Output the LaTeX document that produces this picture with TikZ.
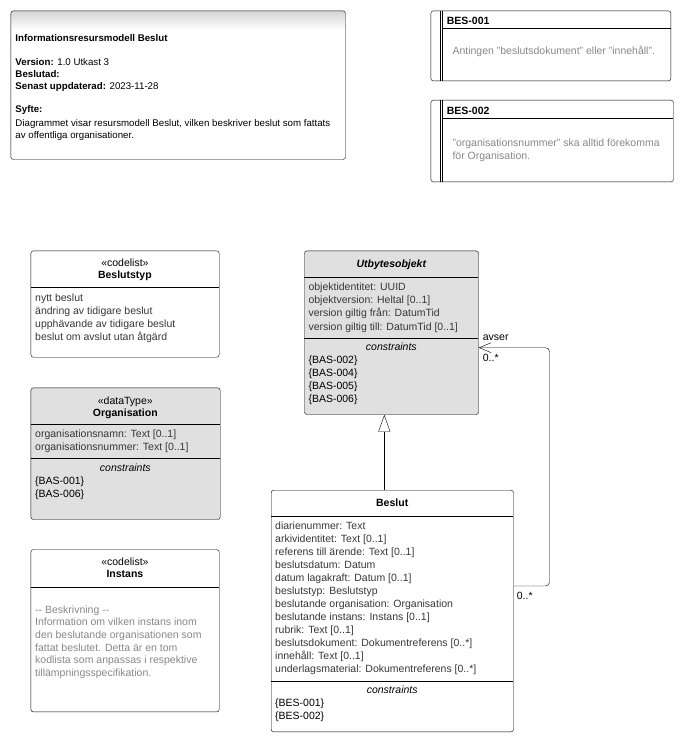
\documentclass[tikz,border=0pt]{standalone}
\usepackage{fontspec}
\setmainfont{Liberation Sans}
\usetikzlibrary{arrows.meta,positioning,calc}
\definecolor{boxgray}{RGB}{224,224,224}
\definecolor{hintgray}{RGB}{135,135,135}
\definecolor{attrtext}{RGB}{55,55,55}

\begin{document}
\begin{tikzpicture}[x=1pt,y=-1pt,font=\fontsize{10.5}{13}\selectfont,
 umlbox/.style={draw,rounded corners=2.5pt,anchor=north west,inner sep=0pt},
 graybox/.style={umlbox,fill=boxgray},
 plain/.style={anchor=base west,inner sep=0pt},
 attr/.style={plain,text=attrtext},
 hint/.style={plain,text=hintgray},
 cname/.style={anchor=base,inner sep=0pt,font=\fontsize{10.5}{13}\selectfont\bfseries},
 cnote/.style={anchor=base,inner sep=0pt,font=\fontsize{10.5}{13}\selectfont\itshape}]
\useasboundingbox (0,0) rectangle (684,743);

% information note
\shade[top color=black!16,bottom color=white] (11.5,11.5) rectangle (344.5,30);
\node[umlbox,minimum width=334.6,minimum height=148.6] (info) at (10.7,10.7) {};
\begin{scope}[font=\fontsize{9.7}{11}\selectfont]
\node[plain,font=\fontsize{9.7}{11}\selectfont\bfseries] at (15.3,41.7) {Informationsresursmodell Beslut};
\node[plain] at (15.3,65.3) {\textbf{Version:} 1.0 Utkast 3};
\node[plain] at (15.3,77.3) {\textbf{Beslutad:}};
\node[plain] at (15.3,89.3) {\textbf{Senast uppdaterad:} 2023-11-28};
\node[plain] at (15.3,112.7) {\textbf{Syfte:}};
\node[plain] at (15.3,126.7) {Diagrammet visar resursmodell Beslut, vilken beskriver beslut som fattats};
\node[plain] at (15.3,138.7) {av offentliga organisationer.};
\end{scope}

% constraint notes
\node[umlbox,minimum width=240,minimum height=70] (bes1) at (430.7,10.7) {};
\draw (440,10.7)--(440,80.7) (442,10.7)--(442,80.7) (442,28.3)--(670.7,28.3);
\node[plain,font=\fontsize{10.5}{13}\selectfont\bfseries] at (446.7,25) {BES-001};
\node[hint] at (452.3,55) {Antingen "beslutsdokument" eller "innehåll".};

\node[umlbox,minimum width=242.6,minimum height=81.7] (bes2) at (430.7,100) {};
\draw (440,100)--(440,181.7) (442,100)--(442,181.7) (442,118.3)--(673.3,118.3);
\node[plain,font=\fontsize{10.5}{13}\selectfont\bfseries] at (446.7,115) {BES-002};
\node[hint] at (452.3,146.7) {"organisationsnummer" ska alltid förekomma};
\node[hint] at (452.3,159.3) {för Organisation.};

% Beslutstyp
\node[umlbox,minimum width=188.3,minimum height=106.3] (beslutstyp) at (30.7,250.7) {};
\node[anchor=base,inner sep=0pt] at (124.9,266) {«codelist»};
\node[cname] at (124.9,278.5) {Beslutstyp};
\draw (30.7,287)--(219,287);
\foreach \t [count=\i from 0] in {{nytt beslut},{ändring av tidigare beslut},{upphävande av tidigare beslut},{beslut om avslut utan åtgärd}} {
 \node[attr] at (35,301+13*\i) {\t};
}

% Organisation
\node[graybox,minimum width=189.3,minimum height=131.6] (organisation) at (30.7,387.7) {};
\node[anchor=base,inner sep=0pt] at (125.3,404.5) {«dataType»};
\node[cname] at (125.3,416.5) {Organisation};
\draw (30.7,424.3)--(220,424.3) (30.7,458.3)--(220,458.3);
\node[attr] at (35,437.5) {organisationsnamn: Text [0..1]};
\node[attr] at (35,450.5) {organisationsnummer: Text [0..1]};
\node[cnote] at (125.3,471.7) {constraints};
\node[plain] at (35,484.5) {\{BAS-001\}};
\node[plain] at (35,497.5) {\{BAS-006\}};

% Instans
\node[umlbox,minimum width=188.3,minimum height=162.4] (instans) at (30.7,549.3) {};
\node[anchor=base,inner sep=0pt] at (124.9,565) {«codelist»};
\node[cname] at (124.9,577.3) {Instans};
\draw (30.7,586.7)--(219,586.7);
\foreach \t [count=\i from 0] in {{-{}- Beskrivning -{}-},{Information om vilken instans inom},{den beslutande organisationen som},{fattat beslutet. Detta är en tom},{kodlista som anpassas i respektive},{tillämpningsspecifikation.}} {
 \node[hint] at (35,613+12.7*\i) {\t};
}

% Utbytesobjekt
\node[graybox,minimum width=174,minimum height=163.6] (utbyte) at (304.3,250.7) {};
\node[cname,font=\fontsize{10.5}{13}\selectfont\bfseries\itshape] at (391.3,267.3) {Utbytesobjekt};
\draw (304.3,277.3)--(478.3,277.3) (304.3,337.7)--(478.3,337.7);
\foreach \t [count=\i from 0] in {{objektidentitet: UUID},{objektversion: Heltal [0..1]},{version giltig från: DatumTid},{version giltig till: DatumTid [0..1]}} {
 \node[attr] at (308.3,290.7+13.1*\i) {\t};
}
\node[cnote] at (391.3,350.7) {constraints};
\foreach \t [count=\i from 0] in {BAS-002,BAS-004,BAS-005,BAS-006} {
 \node[plain] at (308.3,363+13.1*\i) {\{\t\}};
}

% Beslut
\node[umlbox,minimum width=242.3,minimum height=241.7] (beslut) at (271,490) {};
\node[cname] at (392.2,506.7) {Beslut};
\draw (271,516)--(513.3,516) (271,680.7)--(513.3,680.7);
\foreach \t [count=\i from 0] in {{diarienummer: Text},{arkividentitet: Text [0..1]},{referens till ärende: Text [0..1]},{beslutsdatum: Datum},{datum lagakraft: Datum [0..1]},{beslutstyp: Beslutstyp},{beslutande organisation: Organisation},{beslutande instans: Instans [0..1]},{rubrik: Text [0..1]},{beslutsdokument: Dokumentreferens [0..*]},{innehåll: Text [0..1]},{underlagsmaterial: Dokumentreferens [0..*]}} {
 \node[attr] at (275,529.5+13*\i) {\t};
}
\node[cnote] at (392.2,693.3) {constraints};
\node[plain] at (275,706.3) {\{BES-001\}};
\node[plain] at (275,719.3) {\{BES-002\}};

% generalisation
\coordinate (genx) at (384.3,0);
\draw[-{Triangle[open,length=17pt,width=12pt]}] (beslut.north -| genx) -- (utbyte.south -| genx);

% association avser
\coordinate (turnlow) at (549.5,586);
\coordinate (turnhigh) at (549.5,347.7);
\draw[-{Straight Barb[length=12pt,width=10pt]},rounded corners=4pt] (beslut.east |- turnlow) -- (turnlow) -- (turnhigh) -- (utbyte.east |- turnhigh);
\node[plain] (avser) at (482.7,340) {avser};
\node[plain] (multtop) at (482.7,361.7) {0..*};
\node[plain] (multlow) at (516.7,599.3) {0..*};
\end{tikzpicture}
\end{document}
